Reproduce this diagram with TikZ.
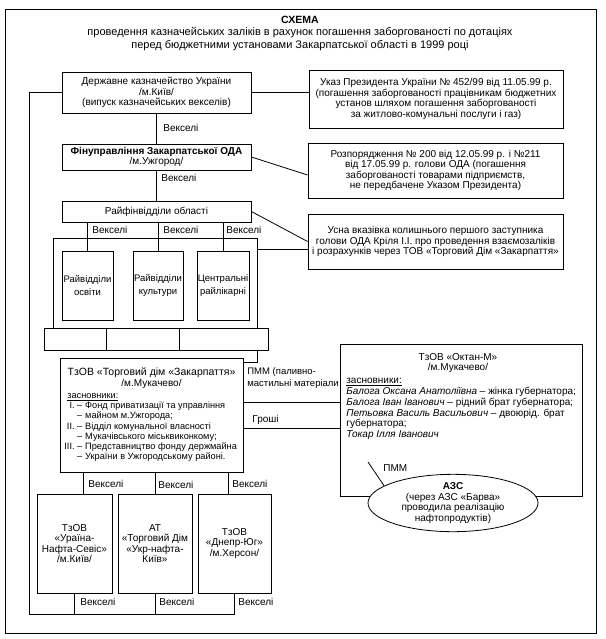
\documentclass[tikz,border=0pt]{standalone}
\usepackage{fontspec}
\setmainfont{Liberation Sans}
\usetikzlibrary{positioning,shapes.geometric}
\tikzset{box/.style={draw,align=center,inner sep=0pt},
  lbl/.style={anchor=west,inner sep=0pt}}
\newcommand*{\vks}{Векселі}

\begin{document}
\begin{tikzpicture}[x=1pt,y=-1pt,line width=.8pt,
  font=\fontsize{10}{10.5}\selectfont]

\useasboundingbox (0,0) rectangle (605,639);
\draw (5,9) rectangle (596,633);

% Title
\node[font=\fontsize{10.5}{11}\selectfont\bfseries] (title) at (300,20) {СХЕМА};
\node[align=center,font=\fontsize{11}{12.5}\selectfont] (sub) at (300,39)
  {проведення казначейських заліків в рахунок погашення заборгованості по дотаціях\\
   перед бюджетними установами Закарпатської області в 1999 році};

% Left column
\node[box,minimum width=189,minimum height=41] (kyiv) at (156.5,92.5)
  {Державне казначейство України\\/м.Київ/\\(випуск казначейських векселів)};
\node[box,minimum width=189,minimum height=26] (fin) at (156.5,157)
  {\textbf{Фінуправління Закарпатської ОДА}\\/м.Ужгород/};
\node[box,minimum width=189,minimum height=21] (rayfin) at (156.5,211.5)
  {Райфінвідділи області};

% Right column
\node[box,minimum width=254,minimum height=58] (decree) at (436,99)
  {Указ Президента України № 452/99 від 11.05.99 р.\\
   (погашення заборгованості працівникам бюджетних\\
   установ шляхом погашення заборгованості\\
   за житлово-комунальні послуги і газ)};
\node[box,minimum width=255,minimum height=55] (rozp) at (435.5,170.5)
  {Розпорядження № 200 від 12.05.99 р. і №211\\
   від 17.05.99 р. голови ОДА (погашення\\
   заборгованості товарами підприємств,\\
   не передбачене Указом Президента)};
\node[box,minimum width=255,minimum height=55] (usna) at (435.5,241.5)
  {Усна вказівка колишнього першого заступника\\
   голови ОДА Кріля І.І. про проведення взаємозаліків\\
   і розрахунків через ТОВ «Торговий Дім «Закарпаття»};

% Budget institutions
\node[box,minimum width=204,minimum height=90] (grp) at (155,283) {};
\begin{scope}[font=\fontsize{9.5}{13}\selectfont]
\node[box,minimum width=51,minimum height=69] (osv) at (87.5,285.5)
  {Райвідділи\\освіти};
\node[box,minimum width=50,minimum height=69] (kult) at (158,285.5)
  {Райвідділи\\культури};
\node[box,minimum width=52,minimum height=69] (likar) at (223,285.5)
  {Центральні\\райлікарні};
\end{scope}
\node[box,minimum width=224,minimum height=22] (bar) at (156,339) {};
\draw (106,328) -- (106,350);
\draw (179,328) -- (179,350);

% Trading house
\node[box,minimum width=183,minimum height=114] (tzov) at (151.5,415) {};
\node[align=center] (tzhd) at (151.5,378)
  {{\fontsize{10.5}{10.5}\selectfont ТзОВ «Торговий дім «Закарпаття»}\\/м.Мукачево/};
\node[anchor=north west,inner sep=0pt,font=\fontsize{9.2}{10.2}\selectfont]
  (tzlst) at (64,391)
  {\begin{tabular}{@{}r@{\hspace{2.5pt}–\hspace{3pt}}l@{}}
   \multicolumn{2}{@{}l}{\hspace{3pt}\underline{засновники:}}\\
   I. & Фонд приватизації та управління\\
      & майном м.Ужгорода;\\
   II. & Відділ комунальної власності\\
      & Мукачівського міськвиконкому;\\
   III. & Представництво фонду держмайна\\
      & України в Ужгородському районі.
   \end{tabular}};

% Oktan
\node[box,minimum width=242,minimum height=152] (oktan) at (461,420) {};
\node[align=center] (okthd) at (458,363) {ТзОВ «Октан-М»\\/м.Мукачево/};
\node[anchor=north west,align=left,inner sep=0pt,
  font=\fontsize{10}{10.8}\selectfont] (oktlst) at (346,378)
  {\underline{засновники:}\\
   \textit{Балога Оксана Анатоліївна} – жінка губернатора;\\
   \textit{Балога Іван Іванович} – рідний брат губернатора;\\
   \textit{Петьовка Василь Васильович} – двоюрід. брат\\
   губернатора;\\
   \textit{Токар Ілля Іванович}};
\node[ellipse,draw,fill=white,align=center,inner sep=0pt,
  minimum width=170,minimum height=56] (azs) at (453,503)
  {\textbf{АЗС}\\(через АЗС «Барва»\\проводила реалізацію\\нафтопродуктів)};
\coordinate (pmm) at (368,462);
\node[lbl] (lpmm) at (383,468) {ПММ};

% Buyers
\node[box,minimum width=75,minimum height=99] (b1) at (74.5,543.5)
  {ТзОВ\\«Ураїна-\\Нафта-Севіс»\\/м.Київ/};
\node[box,minimum width=74,minimum height=99] (b2) at (155,543.5)
  {АТ\\«Торговий Дім\\«Укр-нафта-\\Київ»};
\node[box,minimum width=73,minimum height=99] (b3) at (234.5,543.5)
  {ТзОВ\\«Днепр-Юг»\\/м.Херсон/};
\coordinate (bl) at (29,614);

% Connectors
\draw (kyiv.east) -- (kyiv.east -| decree.west);
\draw (kyiv.south) -- (fin.north);
\draw (fin.south) -- (rayfin.north);
\draw (fin.east) -- ([yshift=-4.5pt]rozp.west);
\draw (rayfin.east) -- (usna.west);
\coordinate (g1) at ([yshift=34pt]grp.east);
\draw (g1) -- (g1 -| usna.west);
\draw (osv.north) -- (osv.north |- rayfin.south);
\draw (kult.north) -- (kult.north |- rayfin.south);
\draw (likar.north) -- (likar.north |- rayfin.south);
\draw ([xshift=-11pt]bar.south east) |- ([yshift=-5pt]tzov.north east);
\draw ([yshift=13pt]tzov.east) -- ([yshift=13pt]tzov.east -| oktan.west);
\draw ([yshift=-13pt]tzov.east) -- ([yshift=-13pt]tzov.east -| oktan.west);
\draw (pmm) -- (azs.166);
\draw ([xshift=8.5pt]b1.north) -- ([xshift=8.5pt]b1.north |- tzov.south);
\draw (b2.north) -- (b2.north |- tzov.south);
\draw ([xshift=-6.5pt]b3.north) -- ([xshift=-6.5pt]b3.north |- tzov.south);
\draw (kyiv.west) -| (bl) -- (bl -| b3.south);
\draw (b1.south) -- (b1.south |- bl);
\draw (b2.south) -- (b2.south |- bl);
\draw (b3.south) -- (b3.south |- bl);

% Labels
\node[lbl] (v1) at (163,128) {\vks};
\node[lbl] (v2) at (161,178) {\vks};
\node[lbl] (v3) at (92,230) {\vks};
\node[lbl] (v4) at (163,230) {\vks};
\node[lbl] (v5) at (226,230) {\vks};
\node[lbl] (v6) at (88,484) {\vks};
\node[lbl] (v7) at (158,485) {\vks};
\node[lbl] (v8) at (232,484) {\vks};
\node[lbl] (v9) at (80,602) {\vks};
\node[lbl] (v10) at (159,602) {\vks};
\node[lbl] (v11) at (238,602) {\vks};
\node[lbl,align=left,font=\fontsize{9.5}{12}\selectfont] (lpmmt) at (247,378)
  {ПММ (паливно-\\мастильні матеріали};
\node[lbl] (lgr) at (252,420) {Гроші};

\end{tikzpicture}
\end{document}
